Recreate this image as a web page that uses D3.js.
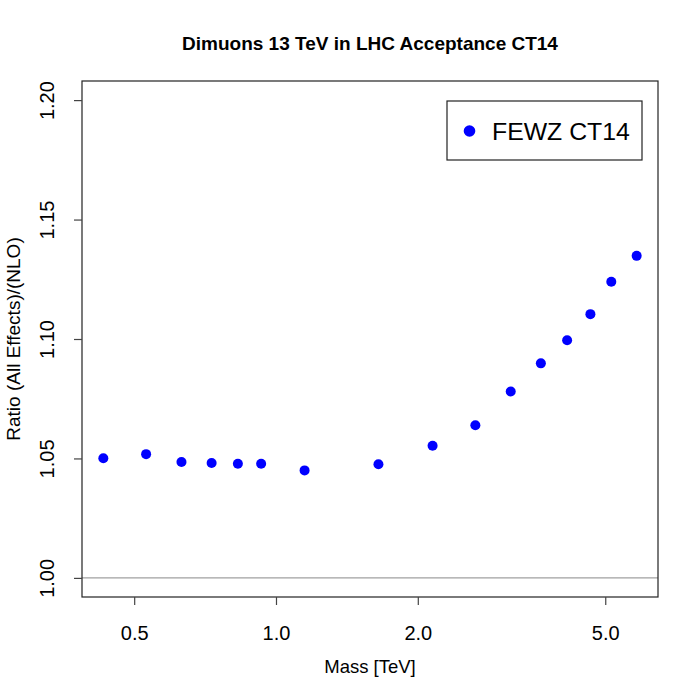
<!DOCTYPE html>
<html>
<head>
<meta charset="utf-8">
<script src="https://cdn.jsdelivr.net/npm/d3@7"></script>
<style>
  body { margin: 0; background: #fff; }
  svg { font-family: "Liberation Sans", Arial, Helvetica, sans-serif; }
</style>
</head>
<body>
<svg id="chart" width="700" height="700"></svg>
<script>
// ---- Data ----
const mass = [0.43, 0.53, 0.63, 0.73, 0.83, 0.93, 1.15, 1.65, 2.15, 2.65, 3.15, 3.65, 4.15, 4.65, 5.15, 5.83];
const ratio = [1.0501, 1.0518, 1.0485, 1.0481, 1.0478, 1.0478, 1.0450, 1.0476, 1.0553, 1.0639, 1.0780, 1.0898, 1.0995, 1.1104, 1.1240, 1.1348];
const xTicks = [0.5, 1.0, 2.0, 5.0];
const yTicks = [1.00, 1.05, 1.10, 1.15, 1.20];
const yLim = [1.0, 1.2];
const seriesName = "FEWZ CT14";
const title = "Dimuons 13 TeV in LHC Acceptance CT14";
const xLabel = "Mass [TeV]";
const yLabel = "Ratio (All Effects)/(NLO)";

// ---- Layout ----
const L = 82, R = 658, T = 81, B = 597;
const svg = d3.select("#chart");

// R-style 4% extension
const lx = d3.extent(mass).map(Math.log10);
const px = (lx[1] - lx[0]) * 0.04;
const x = d3.scaleLog().domain([Math.pow(10, lx[0] - px), Math.pow(10, lx[1] + px)]).range([L, R]);
const py = (yLim[1] - yLim[0]) * 0.04;
const y = d3.scaleLinear().domain([yLim[0] - py, yLim[1] + py]).range([B, T]);

// reference line at 1.0
svg.append("line")
  .attr("x1", L).attr("x2", R)
  .attr("y1", y(1.0)).attr("y2", y(1.0))
  .attr("stroke", "#a0a0a0").attr("stroke-width", 1.3);

// points
svg.append("g").selectAll("circle")
  .data(mass.map((m, i) => ({ m, r: ratio[i] })))
  .join("circle")
  .attr("cx", d => x(d.m))
  .attr("cy", d => y(d.r))
  .attr("r", 5)
  .attr("fill", "#0000ff");

// box
svg.append("rect")
  .attr("x", L).attr("y", T)
  .attr("width", R - L).attr("height", B - T)
  .attr("fill", "none").attr("stroke", "#222").attr("stroke-width", 1.2);

// x axis
const xAxis = d3.axisBottom(x).tickValues(xTicks).tickSize(8).tickSizeOuter(0)
  .tickFormat(d3.format(".1f"));
const gx = svg.append("g").attr("transform", `translate(0,${B})`).call(xAxis);
gx.select(".domain").remove();
gx.selectAll(".tick line").attr("stroke", "#444").attr("stroke-width", 1.2);
gx.selectAll(".tick text").attr("font-size", 20).attr("fill", "#000")
  .attr("font-family", "Liberation Sans, Arial, sans-serif").attr("dy", null).attr("y", 43);

// y axis
const yAxis = d3.axisLeft(y).tickValues(yTicks).tickSize(8).tickSizeOuter(0)
  .tickFormat(d3.format(".2f"));
const gy = svg.append("g").attr("transform", `translate(${L},0)`).call(yAxis);
gy.select(".domain").remove();
gy.selectAll(".tick line").attr("stroke", "#444").attr("stroke-width", 1.2);
gy.selectAll(".tick text")
  .attr("font-size", 20).attr("fill", "#000")
  .attr("font-family", "Liberation Sans, Arial, sans-serif")
  .attr("x", null).attr("dy", null)
  .attr("text-anchor", "middle")
  .attr("transform", "translate(-28,0) rotate(-90)")
  .attr("y", 0);

// title
svg.append("text")
  .attr("x", (L + R) / 2).attr("y", 50)
  .attr("text-anchor", "middle")
  .attr("font-size", 19).attr("font-weight", "bold")
  .text(title);

// x label
svg.append("text")
  .attr("x", (L + R) / 2).attr("y", 673)
  .attr("text-anchor", "middle")
  .attr("font-size", 18.5)
  .text(xLabel);

// y label
svg.append("text")
  .attr("transform", `translate(20,${(T + B) / 2}) rotate(-90)`)
  .attr("text-anchor", "middle")
  .attr("font-size", 19)
  .text(yLabel);

// legend
const lg = svg.append("g");
lg.append("rect")
  .attr("x", 447).attr("y", 101).attr("width", 195).attr("height", 59)
  .attr("fill", "#fff").attr("stroke", "#222").attr("stroke-width", 1.2);
lg.append("circle").attr("cx", 469.5).attr("cy", 131).attr("r", 5.8).attr("fill", "#0000ff");
lg.append("text").attr("x", 492).attr("y", 140).attr("font-size", 24.8).text(seriesName);
</script>
</body>
</html>
